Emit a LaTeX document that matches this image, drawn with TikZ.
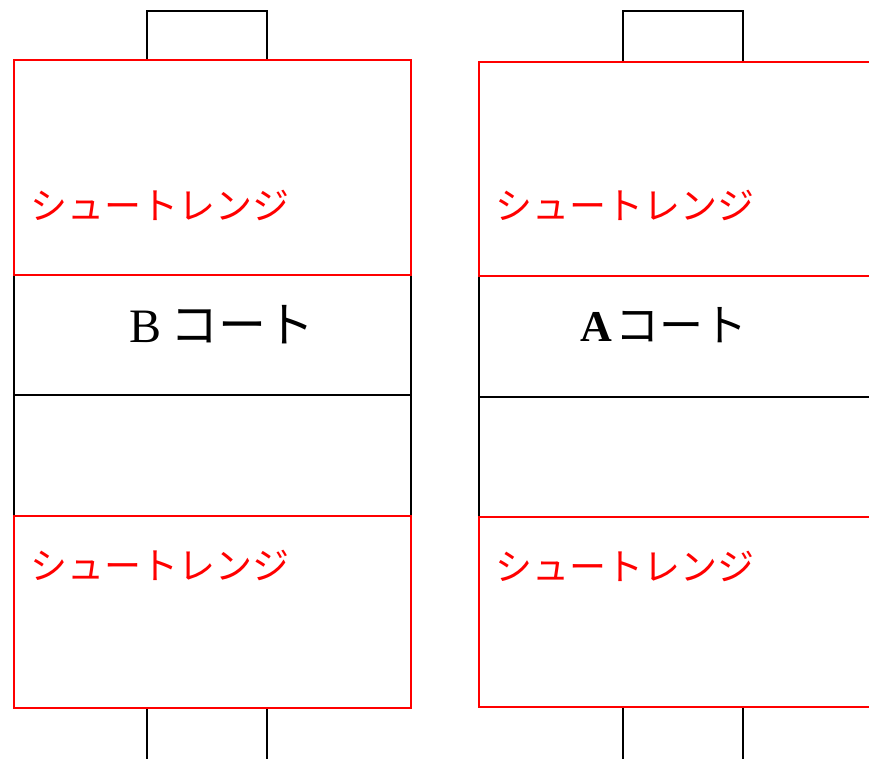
\documentclass[tikz,border=0pt]{standalone}
\usepackage{fontspec}
\setmainfont{Liberation Serif}
\newfontfamily\jp{Noto Sans CJK JP}
\tikzset{
  redline/.style={draw=red, line width=1.8pt},
  blkline/.style={draw=black, line width=1.8pt},
  rangetxt/.style={text=red, font=\jp\fontsize{37}{40}\selectfont, inner sep=0pt, anchor=west},
  courtlbl/.style={text=black, inner sep=0pt},
}
\begin{document}
\begin{tikzpicture}[x=1pt,y=-1pt]
\useasboundingbox (0,0) rectangle (869,759);
\clip (0,0) rectangle (869,759);
% ---- left court (B) ----
\node[blkline, minimum width=120pt, minimum height=49pt, inner sep=0pt] (bgoaltop) at (207,35.5) {};
\node[blkline, minimum width=397pt, minimum height=241pt, inner sep=0pt] (bmid) at (212.5,395.5) {};
\draw[blkline] (bmid.west |- 0,395) -- (bmid.east |- 0,395);
\node[redline, minimum width=397pt, minimum height=215pt, inner sep=0pt] (btop) at (212.5,167.5) {};
\node[redline, minimum width=397pt, minimum height=192pt, inner sep=0pt] (bbot) at (212.5,612) {};
\coordinate (bgl) at (147,759);
\coordinate (bgr) at (267,759);
\draw[blkline] (bbot.south -| bgl) -- (bgl);
\draw[blkline] (bbot.south -| bgr) -- (bgr);
\node[rangetxt] (brange1) at (30,205) {シュートレンジ};
\node[rangetxt] (brange2) at (30,565) {シュートレンジ};
\node[courtlbl, font=\fontsize{48}{52}\selectfont] (blabel) at (222,325) {B\hspace{8pt}{\jp コート}};
% ---- right court (A) ----
\node[blkline, minimum width=120pt, minimum height=51pt, inner sep=0pt] (agoaltop) at (683,36.5) {};
\node[blkline, minimum width=410pt, minimum height=241pt, inner sep=0pt] (amid) at (684,396.5) {};
\draw[blkline] (amid.west |- 0,397) -- (amid.east |- 0,397);
\node[redline, minimum width=410pt, minimum height=214pt, inner sep=0pt] (atop) at (684,169) {};
\node[redline, minimum width=410pt, minimum height=190pt, inner sep=0pt] (abot) at (684,612) {};
\coordinate (agl) at (623,759);
\coordinate (agr) at (743,759);
\draw[blkline] (abot.south -| agl) -- (agl);
\draw[blkline] (abot.south -| agr) -- (agr);
\node[rangetxt] (arange1) at (495,205) {シュートレンジ};
\node[rangetxt] (arange2) at (495,566) {シュートレンジ};
\node[courtlbl, font=\fontsize{44}{48}\selectfont] (alabel) at (664,325) {\textbf{A}\hspace{4pt}{\jp コート}};
\end{tikzpicture}
\end{document}
